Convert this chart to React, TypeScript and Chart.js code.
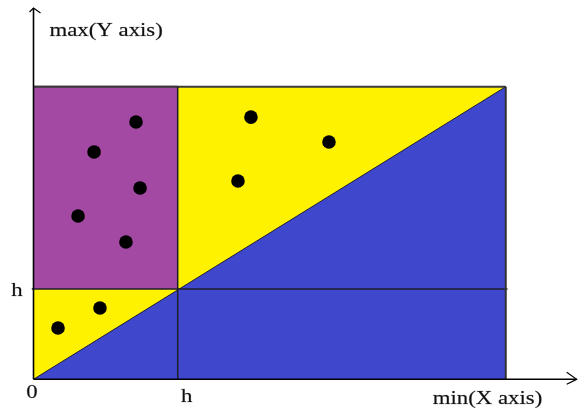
import React, { useEffect, useRef } from 'react';
import { Chart, registerables } from 'chart.js';

Chart.register(...registerables);

// Data (in units of h)
const H = 1;
const RECT_X_MAX = 3.275;
const RECT_Y_MAX = 3.24;
const AXIS_X_MAX = 3.767;
const AXIS_Y_MAX = 4.112;
const dotsX = [0.711, 0.42, 0.739, 0.309, 0.641, 1.508, 2.049, 1.418, 0.461, 0.17];
const dotsY = [2.849, 2.518, 2.119, 1.809, 1.521, 2.904, 2.628, 2.196, 0.79, 0.568];
const xTickValues = [0, H];
const xTickLabels = ['0', 'h'];
const yTickValues = [H];
const yTickLabels = ['h'];
const xAxisTitle = 'min(X axis)';
const yAxisTitle = 'max(Y axis)';

const PURPLE = '#a349a4';
const YELLOW = '#fff200';
const BLUE = '#3f48cc';
const FONT = '19px "Liberation Serif", "Times New Roman", serif';
const STRETCH = 1.2;

function drawText(ctx: CanvasRenderingContext2D, text: string, x: number, y: number, align: 'left' | 'center') {
  ctx.save();
  ctx.translate(x, y);
  ctx.scale(STRETCH, 1);
  ctx.font = FONT;
  ctx.fillStyle = '#111';
  ctx.strokeStyle = 'rgba(17,17,17,0.35)';
  ctx.lineWidth = 0.5;
  ctx.textAlign = align;
  ctx.textBaseline = 'alphabetic';
  ctx.fillText(text, 0, 0);
  ctx.strokeText(text, 0, 0);
  ctx.restore();
}

const axesPlugin = {
  id: 'axesPlugin',
  afterDraw(chart: any) {
    const ctx: CanvasRenderingContext2D = chart.ctx;
    const xs = chart.scales.x;
    const ys = chart.scales.y;
    const x0 = xs.getPixelForValue(0);
    const y0 = ys.getPixelForValue(0);
    const xTip = xs.getPixelForValue(AXIS_X_MAX);
    const yTip = ys.getPixelForValue(AXIS_Y_MAX);
    ctx.save();
    ctx.strokeStyle = '#000';
    ctx.lineWidth = 1.6;
    ctx.beginPath();
    ctx.moveTo(x0, y0);
    ctx.lineTo(x0, yTip);
    ctx.moveTo(x0, y0);
    ctx.lineTo(xTip, y0);
    ctx.stroke();
    ctx.lineWidth = 1.2;
    ctx.beginPath();
    // y arrow
    ctx.moveTo(x0 - 4, yTip + 4);
    ctx.lineTo(x0, yTip);
    ctx.lineTo(x0 + 7, yTip + 5);
    // x arrow
    ctx.moveTo(xTip - 10, y0 - 7);
    ctx.lineTo(xTip, y0);
    ctx.lineTo(xTip - 10, y0 + 5);
    ctx.stroke();
    ctx.restore();

    // tick labels
    xTickValues.forEach((v, i) => {
      const px = xs.getPixelForValue(v);
      if (v === 0) drawText(ctx, xTickLabels[i], px - 1.5, y0 + 19, 'center');
      else drawText(ctx, xTickLabels[i], px + 9, y0 + 23, 'center');
    });
    yTickValues.forEach((v, i) => {
      const py = ys.getPixelForValue(v);
      drawText(ctx, yTickLabels[i], x0 - 16.5, py + 7, 'center');
    });
    // axis titles
    drawText(ctx, yAxisTitle, x0 + 16, yTip + 28, 'left');
    drawText(ctx, xAxisTitle, xTip - 144, y0 + 25, 'left');
  },
};

export default function App() {
  const ref = useRef<HTMLCanvasElement | null>(null);
  useEffect(() => {
    document.body.style.margin = '0';
    if (!ref.current) return;
    const lineBase = { pointRadius: 0, clip: false as any, tension: 0, showLine: true };
    const chart = new Chart(ref.current, {
      type: 'line',
      data: {
        datasets: [
          {
            ...lineBase,
            label: 'yellow',
            data: [{ x: 0, y: RECT_Y_MAX }, { x: RECT_X_MAX, y: RECT_Y_MAX }],
            fill: 'origin',
            backgroundColor: YELLOW,
            borderColor: '#3a3a3a',
            borderWidth: 1.8,
            order: 10,
          },
          {
            ...lineBase,
            label: 'purple',
            data: [{ x: 0, y: RECT_Y_MAX }, { x: H, y: RECT_Y_MAX }],
            fill: { value: H },
            backgroundColor: PURPLE,
            borderColor: '#3a3a3a',
            borderWidth: 1.8,
            order: 9,
          },
          {
            ...lineBase,
            label: 'blue',
            data: [{ x: 0, y: 0 }, { x: RECT_X_MAX, y: RECT_Y_MAX }],
            fill: 'origin',
            backgroundColor: BLUE,
            borderColor: '#1c1c3a',
            borderWidth: 1,
            order: 8,
          },
          {
            ...lineBase,
            label: 'vh',
            data: [{ x: H, y: 0 }, { x: H, y: RECT_Y_MAX }],
            fill: false,
            borderColor: '#1e1e2a',
            borderWidth: 1.5,
            order: 5,
          },
          {
            ...lineBase,
            label: 'hh',
            data: [{ x: -0.012, y: H }, { x: RECT_X_MAX + 0.012, y: H }],
            fill: false,
            borderColor: '#1e1e2a',
            borderWidth: 1.5,
            order: 4,
          },
          {
            ...lineBase,
            label: 'right',
            data: [{ x: RECT_X_MAX, y: 0 }, { x: RECT_X_MAX, y: RECT_Y_MAX }],
            fill: false,
            borderColor: '#333333',
            borderWidth: 2,
            order: 3,
          },
          {
            label: 'points',
            data: dotsX.map((x, i) => ({ x, y: dotsY[i] })),
            showLine: false,
            pointRadius: 6.8,
            pointBackgroundColor: '#000',
            pointBorderColor: '#000',
            pointBorderWidth: 0,
            clip: false as any,
            order: 0,
          },
        ],
      },
      options: {
        animation: false,
        responsive: false,
        events: [],
        layout: { autoPadding: false, padding: { left: 33.5, right: 1.3, top: 8, bottom: 28.7 } },
        scales: {
          x: { type: 'linear', min: 0, max: AXIS_X_MAX, display: false },
          y: { type: 'linear', min: 0, max: AXIS_Y_MAX, display: false },
        },
        plugins: { legend: { display: false }, tooltip: { enabled: false } },
      },
      plugins: [axesPlugin],
    });
    return () => chart.destroy();
  }, []);
  return (
    <div style={{ position: 'absolute', left: 0, top: 0, width: 578, height: 408, background: '#fff' }}>
      <canvas ref={ref} width={578} height={408} style={{ display: 'block' }} />
    </div>
  );
}
